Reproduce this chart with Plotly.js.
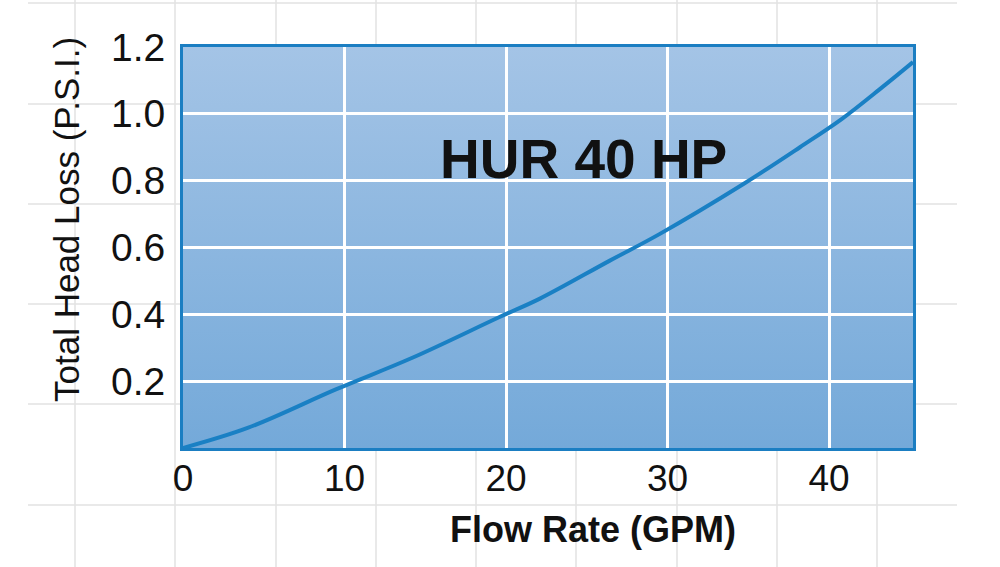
<!DOCTYPE html>
<html>
<head>
<meta charset="utf-8">
<script src="https://cdn.plot.ly/plotly-3.0.1.min.js"></script>
<style>
  html, body { margin: 0; padding: 0; background: #ffffff; }
  #chart { width: 1000px; height: 567px; }
</style>
</head>
<body>
<div id="chart"></div>
<script>
// ---- data ----
const flowGPM = [0, 4.0, 9.5, 14.2, 19.6, 22.1, 26.4, 29.5, 34.7, 38.2, 40.8, 43.3, 45.2];
const headLossPSI = [0, 0.060, 0.176, 0.270, 0.392, 0.447, 0.560, 0.640, 0.790, 0.900, 0.985, 1.080, 1.155];
const xTickVals = [0, 10, 20, 30, 40];
const xTickText = ["0", "10", "20", "30", "40"];
const yTickVals = [0.2, 0.4, 0.6, 0.8, 1.0, 1.2];
const yTickText = ["0.2", "0.4", "0.6", "0.8", "1.0", "1.2"];
const chartLabel = "HUR 40 HP";
const xTitle = "Flow Rate (GPM)";
const yTitle = "Total Head Loss (P.S.I.)";

// ---- layout geometry (pixels) ----
const W = 1000, H = 567;
const M = { l: 183, r: 87, t: 47, b: 119 };
const PW = W - M.l - M.r, PH = H - M.t - M.b;
const px2x = p => (p - M.l) / PW;
const px2y = p => (H - M.b - p) / PH;

// background graph-paper lines
const paperLine = { color: "#e2e2e2", width: 1.5 };
const shapes = [];
const vLines = [75, 175, 276, 376, 476, 576, 677, 777, 877];
const hLines = [3, 104, 204, 304, 404, 505];
vLines.forEach(p => shapes.push({ type: "line", xref: "paper", yref: "paper", layer: "below",
  x0: px2x(p), x1: px2x(p), y0: px2y(0), y1: px2y(H), line: paperLine }));
hLines.forEach(p => shapes.push({ type: "line", xref: "paper", yref: "paper", layer: "below",
  x0: px2x(28), x1: px2x(957), y0: px2y(p), y1: px2y(p), line: paperLine }));

// gradient for plot area
const gradSvg = "<svg xmlns='http://www.w3.org/2000/svg' width='100' height='100' viewBox='0 0 100 100' preserveAspectRatio='none'>" +
  "<defs><linearGradient id='g' x1='0' y1='0' x2='0' y2='1'>" +
  "<stop offset='0' stop-color='#a4c4e6'/><stop offset='1' stop-color='#74a9d9'/>" +
  "</linearGradient></defs><rect x='0' y='0' width='100' height='100' fill='url(#g)'/></svg>";
const gradSrc = "data:image/svg+xml;charset=utf-8," + encodeURIComponent(gradSvg);

const font = "Liberation Sans, Arial, Helvetica, sans-serif";
const borderColor = "#1b7ec2";

const trace = {
  x: flowGPM, y: headLossPSI, type: "scatter", mode: "lines",
  line: { color: "#1a80c4", width: 4, shape: "spline", smoothing: 1 },
  hoverinfo: "skip", showlegend: false
};

const layout = {
  width: W, height: H,
  margin: M,
  paper_bgcolor: "rgba(0,0,0,0)",
  plot_bgcolor: "#8cb6df",
  showlegend: false,
  xaxis: {
    range: [0, 45.2], tickvals: xTickVals, ticktext: xTickText,
    showgrid: true, gridcolor: "#ffffff", gridwidth: 3, zeroline: false,
    showline: true, mirror: true, linecolor: borderColor, linewidth: 3,
    ticks: "", ticklabelstandoff: -4,
    tickfont: { family: font, size: 37, color: "#111111" },
    fixedrange: true
  },
  yaxis: {
    range: [0, 1.2], tickvals: yTickVals, ticktext: yTickText,
    showgrid: true, gridcolor: "#ffffff", gridwidth: 3, zeroline: false,
    showline: true, mirror: true, linecolor: borderColor, linewidth: 3,
    ticks: "", ticklabelstandoff: 7,
    tickfont: { family: font, size: 39, color: "#111111" },
    fixedrange: true
  },
  images: [{
    source: gradSrc, xref: "x domain", yref: "y domain",
    x: 0, y: 1, sizex: 1, sizey: 1, xanchor: "left", yanchor: "top",
    sizing: "stretch", layer: "below"
  }],
  shapes: shapes,
  annotations: [
    { text: chartLabel, xref: "paper", yref: "paper", x: px2x(583), y: px2y(159),
      xanchor: "center", yanchor: "middle", showarrow: false,
      font: { family: font, size: 55, color: "#111111", weight: "bold" } },
    { text: "<b>" + xTitle + "</b>", xref: "paper", yref: "paper", x: px2x(593), y: px2y(529),
      xanchor: "center", yanchor: "middle", showarrow: false,
      font: { family: font, size: 36, color: "#111111" } },
    { text: yTitle, xref: "paper", yref: "paper", x: px2x(66), y: px2y(220),
      xanchor: "center", yanchor: "middle", showarrow: false, textangle: -90,
      font: { family: font, size: 35, color: "#111111" } }
  ]
};

Plotly.newPlot("chart", [trace], layout, { displayModeBar: false, staticPlot: true });
</script>
</body>
</html>
